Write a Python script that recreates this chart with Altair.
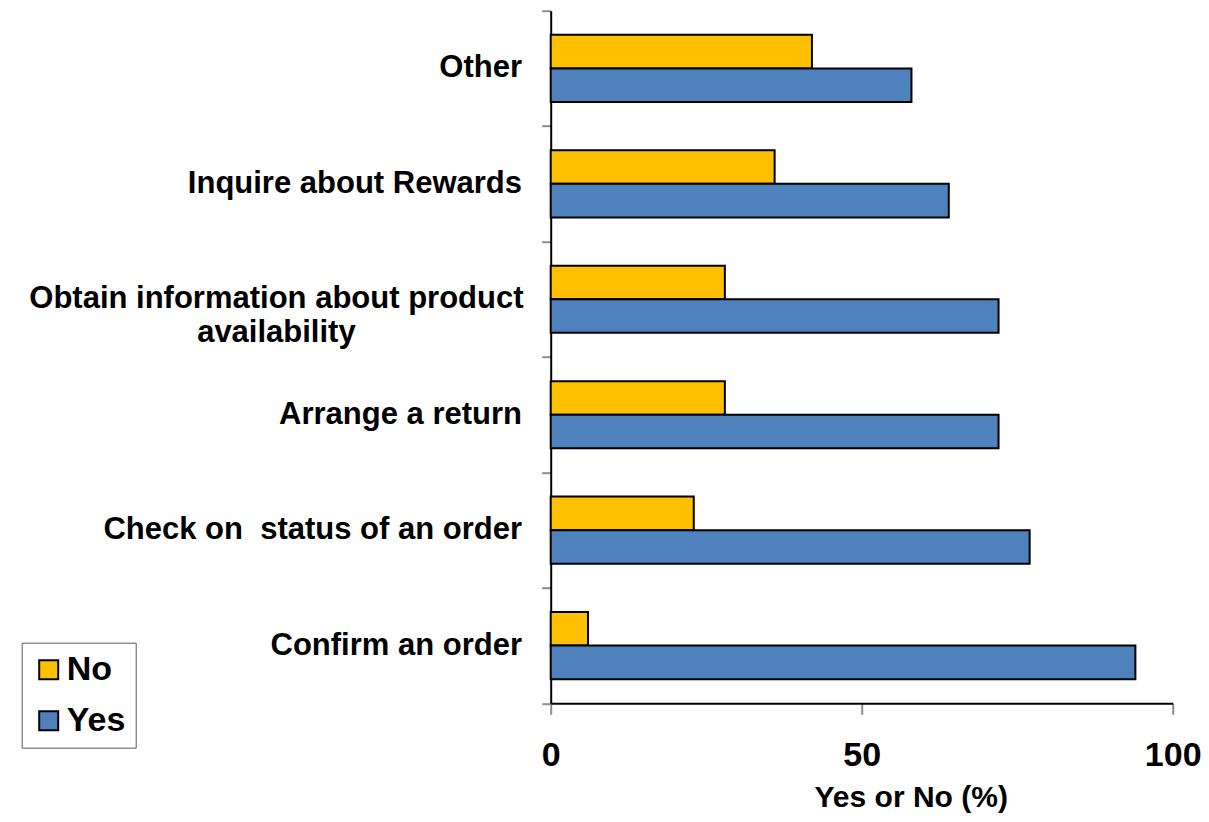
import altair as alt
import pandas as pd

# Survey data: share of respondents answering No / Yes for each contact reason
categories = [
    "Other",
    "Inquire about Rewards",
    "Obtain information about product availability",
    "Arrange a return",
    "Check on  status of an order",
    "Confirm an order",
]
label_lines = [
    "Other",
    "Inquire about Rewards",
    "Obtain information about product\navailability",
    "Arrange a return",
    "Check on\u00a0 status of an order",
    "Confirm an order",
]
no_values = [42, 36, 28, 28, 23, 6]
yes_values = [58, 64, 72, 72, 77, 94]
series = ["No", "Yes"]
series_colors = ["#FFC000", "#4F81BD"]
x_ticks = [0, 50, 100]

FONT = "Liberation Sans"

rows = []
for cat, n, y in zip(categories, no_values, yes_values):
    rows.append({"task": cat, "answer": "No", "pct": n})
    rows.append({"task": cat, "answer": "Yes", "pct": y})
bars_df = pd.DataFrame(rows)

labels_df = pd.DataFrame({"task": categories, "label": label_lines})
single_df = labels_df[~labels_df["label"].str.contains("\n")]
multi_df = labels_df[labels_df["label"].str.contains("\n")]

# Bands fill the whole height so the band ticks fall midway between groups;
# the gap around each bar pair comes from the offset scale's outer padding.
y_scale = alt.Scale(domain=categories, paddingInner=0, paddingOuter=0)
offset_scale = alt.Scale(domain=series, paddingInner=0, paddingOuter=0.72)

# Category axis: domain line plus gray ticks between the bands; labels are drawn as text layers
y_axis = alt.Axis(
    labels=False,
    title=None,
    grid=False,
    tickBand="extent",
    domainColor="black",
    domainWidth=2,
    tickColor="#8c8c8c",
    tickWidth=2,
    tickSize=9,
)

bars = alt.Chart(bars_df).mark_bar(stroke="black", strokeWidth=2).encode(
    x=alt.X(
        "pct:Q",
        scale=alt.Scale(domain=[0, 100], nice=False),
        axis=alt.Axis(
            values=x_ticks,
            title="Yes or No (%)",
            grid=False,
            domainColor="black",
            domainWidth=2,
            tickColor="#8c8c8c",
            tickWidth=2,
            tickSize=11,
            labelFont=FONT,
            labelFontSize=34,
            labelFontWeight="bold",
            labelColor="black",
            labelPadding=24,
            labelFlush=False,
            titleFont=FONT,
            titleFontSize=30,
            titleFontWeight="bold",
            titleColor="black",
            titleX=360,
            titleY=103,
            titleAlign="center",
            titleBaseline="alphabetic",
        ),
    ),
    y=alt.Y("task:N", sort=categories, scale=y_scale, axis=y_axis),
    yOffset=alt.YOffset("answer:N", sort=series, scale=offset_scale),
    color=alt.Color(
        "answer:N",
        scale=alt.Scale(domain=series, range=series_colors),
        legend=alt.Legend(
            title=None,
            orient="none",
            legendX=-529,
            legendY=632,
            fillColor="white",
            strokeColor="#595959",
            padding=10,
            symbolType="square",
            symbolSize=361,
            symbolStrokeColor="black",
            symbolStrokeWidth=2,
            symbolOpacity=1,
            labelFont=FONT,
            labelFontSize=34,
            labelFontWeight="bold",
            labelColor="black",
            labelOffset=1,
            rowPadding=17,
        ),
    ),
)

text_style = dict(baseline="middle", font=FONT, fontSize=31, fontWeight="bold", color="black")

single_labels = alt.Chart(single_df).mark_text(align="right", **text_style).encode(
    y=alt.Y("task:N", sort=categories, scale=y_scale, axis=y_axis),
    x=alt.value(-28.7),
    text="label:N",
)

multi_labels = alt.Chart(multi_df).mark_text(
    align="center", lineBreak="\n", lineHeight=34, **text_style
).encode(
    y=alt.Y("task:N", sort=categories, scale=y_scale, axis=y_axis),
    x=alt.value(-274.3),
    text="label:N",
)

chart = (
    alt.layer(bars, single_labels, multi_labels)
    .properties(
        width=622,
        height=692.6,
        autosize=alt.AutoSizeParams(type="none"),
        padding={"left": 550.7, "top": 10.7, "right": 36.3, "bottom": 118.7},
        background="white",
    )
    .configure_view(stroke=None)
)

chart.save("out.html", embed_options={"renderer": "svg", "actions": False})
